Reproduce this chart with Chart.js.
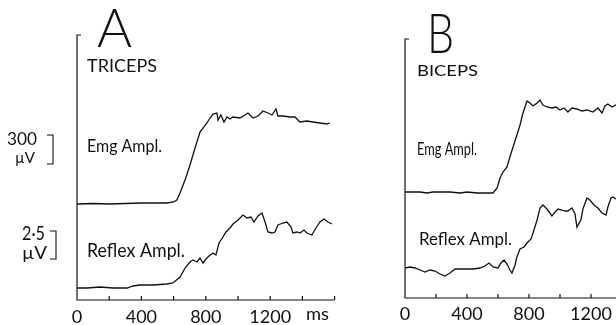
<!DOCTYPE html>
<html>
<head>
<meta charset="utf-8">
<script src="https://cdn.jsdelivr.net/npm/chart.js@4.4.0/dist/chart.umd.min.js"></script>
<style>
  html, body { margin: 0; padding: 0; background: #fff; width: 616px; height: 325px; overflow: hidden; position: relative; }
  canvas { position: absolute; top: 0; }
</style>
</head>
<body>
<canvas id="panelA" style="left:0px" width="360" height="325"></canvas>
<canvas id="panelB" style="left:330px" width="340" height="325"></canvas>
<script>
// time axis (ms) and labelled ticks
const tickLabels = [0, 400, 800, 1200];

// A - triceps (trace height, arbitrary units above the time axis)
const emgTimeA = [0,100,200,300,400,500,560,600,620,640,671,702,733,764,807,826,845,869,876,894,913,932,950,969,1012,1043,1062,1093,1124,1155,1186,1211,1236,1248,1279,1323,1354,1385,1428,1466,1509,1553,1571];
const emgA = [96,96.5,96,96.5,97,97,97,98,100,107,120,135,152,168,177,182,186,187,180,185,178,183,181,183,182,185,187,182,184,189,187,185,191,184,184,183,183,178,179,178,177,176,177];
const reflexTimeA = [0,62,143,224,311,348,391,472,559,596,640,671,702,720,745,764,782,801,820,845,863,882,907,925,950,969,1000,1031,1056,1081,1099,1124,1149,1168,1186,1211,1230,1248,1279,1304,1329,1341,1366,1385,1410,1428,1459,1484,1509,1534,1559,1584];
const reflexA = [12,12,13,12,12,14,15,15,16,17,23,32,38,40,38,42,37,41,44,47,45,57,63,68,72,76,80,85,82,83,78,84,87,78,68,67,68,75,77,78,73,67,68,67,70,67,65,72,78,81,78,76];

// B - biceps
const emgTimeB = [0,52,97,142,181,226,290,355,400,465,529,568,594,613,632,658,677,697,722,742,761,774,787,806,826,852,871,890,916,948,974,1000,1026,1051,1077,1109,1142,1174,1213,1245,1271,1290,1309,1335,1361,1400];
const emgB = [106,106,106,105,106,106,106,105,106,105,105,105,110,120,126,131,141,151,163,173,185,191,197,195,192,195,198,193,191,190,191,188,190,186,190,189,187,188,186,190,185,192,194,191,193,192];
const reflexTimeB = [0,32,65,97,129,161,194,226,258,290,323,355,400,439,484,516,542,568,600,619,639,658,677,690,710,722,742,768,787,813,826,852,871,890,916,948,968,987,1013,1032,1051,1077,1097,1109,1135,1148,1174,1193,1219,1245,1271,1297,1309,1329,1342,1361,1387];
const reflexB = [30,31,30,28,26,28,27,24,22,25,29,29,29,29,30,32,35,31,30,35,38,34,28,25,33,41,49,51,55,59,65,78,90,93,89,82,86,89,88,87,87,90,84,71,78,89,100,98,93,90,85,83,91,100,101,99,97];

const FONT = 'Lato, "DejaVu Sans", sans-serif';
const INK = '#111';

const toPoints = (xs, ys) => xs.map((x, i) => ({ x, y: ys[i] }));

// text drawn at a baseline, squeezed to the width of the original lettering
const drawLabel = (ctx, l) => {
    ctx.save();
    ctx.font = `${l.weight || 400} ${l.size}px ${FONT}`;
    ctx.textBaseline = 'alphabetic';
    ctx.fillStyle = INK;
    const w = ctx.measureText(l.text).width;
    ctx.translate(l.x, l.y);
    ctx.scale(l.w / w, 1);
    ctx.fillText(l.text, 0, 0);
    ctx.restore();
};

// axes: open frame with small inward ticks every 200 ms
const axesPlugin = {
    id: 'axes',
    afterDraw(chart, args, opts) {
        const { ctx, chartArea: a, scales: { x } } = chart;
        ctx.save();
        ctx.strokeStyle = INK;
        ctx.lineWidth = 1.2;
        ctx.beginPath();
        ctx.moveTo(a.left + 4, a.top);
        ctx.lineTo(a.left, a.top);
        ctx.lineTo(a.left, a.bottom);
        ctx.lineTo(x.getPixelForValue(x.max), a.bottom);
        x.ticks.forEach(t => {
            if (t.value === 0) return;
            const px = x.getPixelForValue(t.value);
            ctx.moveTo(px, a.bottom);
            ctx.lineTo(px, a.bottom - 4);
        });
        ctx.stroke();
        // scale brackets
        (opts.brackets || []).forEach(b => {
            ctx.beginPath();
            ctx.lineWidth = 1.1;
            ctx.moveTo(b.x - 6, b.y0);
            ctx.lineTo(b.x, b.y0);
            ctx.lineTo(b.x, b.y1);
            ctx.lineTo(b.x - 6, b.y1);
            ctx.stroke();
        });
        ctx.restore();
        (opts.labels || []).forEach(l => drawLabel(ctx, l));
    }
};

const makePanel = (canvasId, emgT, emg, refT, ref, geo, notes) => {
    return new Chart(document.getElementById(canvasId), {
        type: 'line',
        data: {
            datasets: [
                { data: toPoints(emgT, emg) },
                { data: toPoints(refT, ref) }
            ]
        },
        options: {
            responsive: false,
            animation: false,
            devicePixelRatio: 1,
            layout: { padding: { left: geo.left, right: geo.right, top: geo.top, bottom: 0 } },
            elements: {
                line: { borderColor: INK, borderWidth: 1.3, tension: 0, fill: false },
                point: { radius: 0 }
            },
            plugins: {
                legend: { display: false },
                tooltip: { enabled: false },
                axes: notes
            },
            scales: {
                x: {
                    type: 'linear', min: 0, max: 1600,
                    grid: { display: false, drawTicks: false },
                    border: { display: false },
                    afterFit: s => { s.height = geo.below; },
                    ticks: {
                        stepSize: 200, autoSkip: false, maxRotation: 0, padding: geo.pad,
                        color: INK, font: { family: FONT, size: 18, weight: '400' },
                        callback: v => tickLabels.includes(v) ? String(v) : ''
                    }
                },
                y: { display: false, min: 0, max: geo.height }
            }
        },
        plugins: [axesPlugin]
    });
};

makePanel('panelA', emgTimeA, emgA, reflexTimeA, reflexA,
    { left: 77, right: 25.4, top: 35, below: 25, height: 265, pad: 6 },
    {
        brackets: [{ x: 53, y0: 135, y1: 164 }, { x: 56, y0: 231, y1: 259 }],
        labels: [
            { text: 'A', x: 97, y: 47, size: 54, w: 35, weight: 300 },
            { text: 'TRICEPS', x: 87, y: 72, size: 18, w: 70 },
            { text: 'Emg Ampl.', x: 87, y: 152, size: 18, w: 75 },
            { text: 'Reflex Ampl.', x: 87, y: 257, size: 19, w: 98 },
            { text: '300', x: 7, y: 145, size: 17, w: 30 },
            { text: 'µV', x: 15, y: 163, size: 16, w: 20 },
            { text: '2·5', x: 22, y: 240, size: 20, w: 23 },
            { text: 'µV', x: 22, y: 259, size: 17, w: 25 },
            { text: 'ms', x: 306, y: 320, size: 18, w: 23 }
        ]
    });

makePanel('panelB', emgTimeB, emgB, reflexTimeB, reflexB,
    { left: 75, right: 17, top: 39, below: 27, height: 259, pad: 5 },
    {
        brackets: [],
        labels: [
            { text: 'B', x: 97, y: 53, size: 56, w: 27, weight: 300 },
            { text: 'BICEPS', x: 87, y: 76, size: 16, w: 61 },
            { text: 'Emg Ampl.', x: 87, y: 155, size: 18, w: 60 },
            { text: 'Reflex Ampl.', x: 89, y: 245, size: 18, w: 93 }
        ]
    });
</script>
</body>
</html>
